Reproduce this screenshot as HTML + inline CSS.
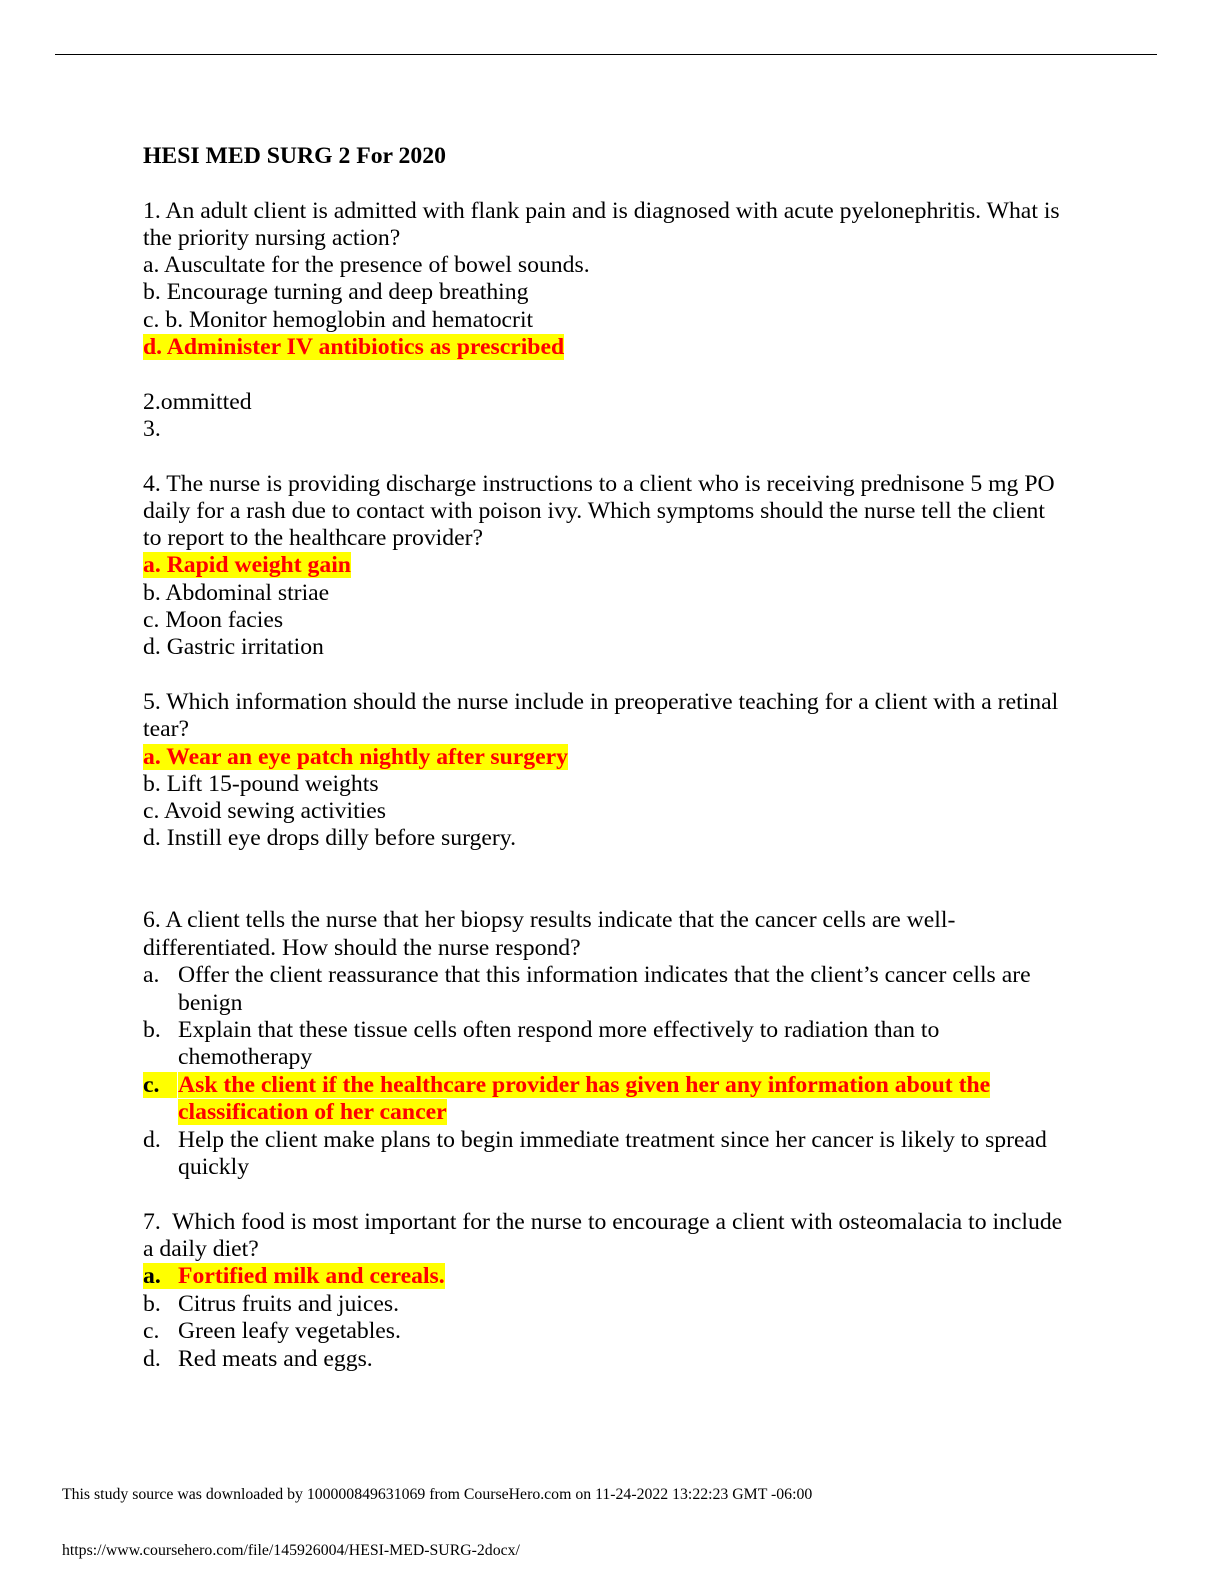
<!DOCTYPE html>
<html><head><meta charset="utf-8"><style>
body{margin:0;width:1224px;height:1584px;background:#fff;position:relative;font-family:"Liberation Serif",serif;color:#000;overflow:hidden}
.l{position:absolute;left:143px;font-size:23.7px;line-height:27px;white-space:nowrap}
.h{background:#ffff00;color:#f00;font-weight:bold}
.i{left:178px}
.f{position:absolute;left:62px;font-size:15.8px;white-space:nowrap}
</style></head><body>
<div style="position:absolute;left:55px;top:54px;width:1102px;height:1px;background:#000"></div>
<div class="l" style="top:143px;font-weight:bold">HESI MED SURG 2 For 2020</div>
<div class="l" style="top:198px">1. An adult client is admitted with flank pain and is diagnosed with acute pyelonephritis. What is</div>
<div class="l" style="top:225px">the priority nursing action?</div>
<div class="l" style="top:252px">a. Auscultate for the presence of bowel sounds.</div>
<div class="l" style="top:279px">b. Encourage turning and deep breathing</div>
<div class="l" style="top:307px">c. b. Monitor hemoglobin and hematocrit</div>
<div class="l" style="top:334px"><span class="h">d. Administer IV antibiotics as prescribed</span></div>
<div class="l" style="top:389px">2.ommitted</div>
<div class="l" style="top:416px">3.</div>
<div class="l" style="top:471px">4. The nurse is providing discharge instructions to a client who is receiving prednisone 5 mg PO</div>
<div class="l" style="top:498px">daily for a rash due to contact with poison ivy. Which symptoms should the nurse tell the client</div>
<div class="l" style="top:525px">to report to the healthcare provider?</div>
<div class="l" style="top:552px"><span class="h">a. Rapid weight gain</span></div>
<div class="l" style="top:580px">b. Abdominal striae</div>
<div class="l" style="top:607px">c. Moon facies</div>
<div class="l" style="top:634px">d. Gastric irritation</div>
<div class="l" style="top:689px">5. Which information should the nurse include in preoperative teaching for a client with a retinal</div>
<div class="l" style="top:716px">tear?</div>
<div class="l" style="top:744px"><span class="h">a. Wear an eye patch nightly after surgery</span></div>
<div class="l" style="top:771px">b. Lift 15-pound weights</div>
<div class="l" style="top:798px">c. Avoid sewing activities</div>
<div class="l" style="top:825px">d. Instill eye drops dilly before surgery.</div>
<div class="l" style="top:907px">6. A client tells the nurse that her biopsy results indicate that the cancer cells are well-</div>
<div class="l" style="top:935px">differentiated. How should the nurse respond?</div>
<div class="l" style="top:962px">a.</div><div class="l i" style="top:962px">Offer the client reassurance that this information indicates that the client’s cancer cells are</div>
<div class="l i" style="top:990px">benign</div>
<div class="l" style="top:1017px">b.</div><div class="l i" style="top:1017px">Explain that these tissue cells often respond more effectively to radiation than to</div>
<div class="l i" style="top:1044px">chemotherapy</div>
<div class="l" style="top:1072px"><span class="h" style="color:#000">c.&nbsp;&nbsp;&nbsp;</span></div><div class="l i" style="top:1072px"><span class="h">Ask the client if the healthcare provider has given her any information about the </span></div>
<div class="l i" style="top:1099px"><span class="h">classification of her cancer</span></div>
<div class="l" style="top:1127px">d.</div><div class="l i" style="top:1127px">Help the client make plans to begin immediate treatment since her cancer is likely to spread</div>
<div class="l i" style="top:1154px">quickly</div>
<div class="l" style="top:1209px">7.&nbsp; Which food is most important for the nurse to encourage a client with osteomalacia to include</div>
<div class="l" style="top:1236px">a daily diet?</div>
<div class="l" style="top:1263px"><span class="h" style="color:#000">a.&nbsp;&nbsp;&nbsp;</span></div><div class="l i" style="top:1263px"><span class="h">Fortified milk and cereals.</span></div>
<div class="l" style="top:1291px">b.</div><div class="l i" style="top:1291px">Citrus fruits and juices.</div>
<div class="l" style="top:1318px">c.</div><div class="l i" style="top:1318px">Green leafy vegetables.</div>
<div class="l" style="top:1346px">d.</div><div class="l i" style="top:1346px">Red meats and eggs.</div>
<div class="f" style="top:1486px">This study source was downloaded by 100000849631069 from CourseHero.com on 11-24-2022 13:22:23 GMT -06:00</div>
<div class="f" style="top:1542px">https://www.coursehero.com/file/145926004/HESI-MED-SURG-2docx/</div>
</body></html>
